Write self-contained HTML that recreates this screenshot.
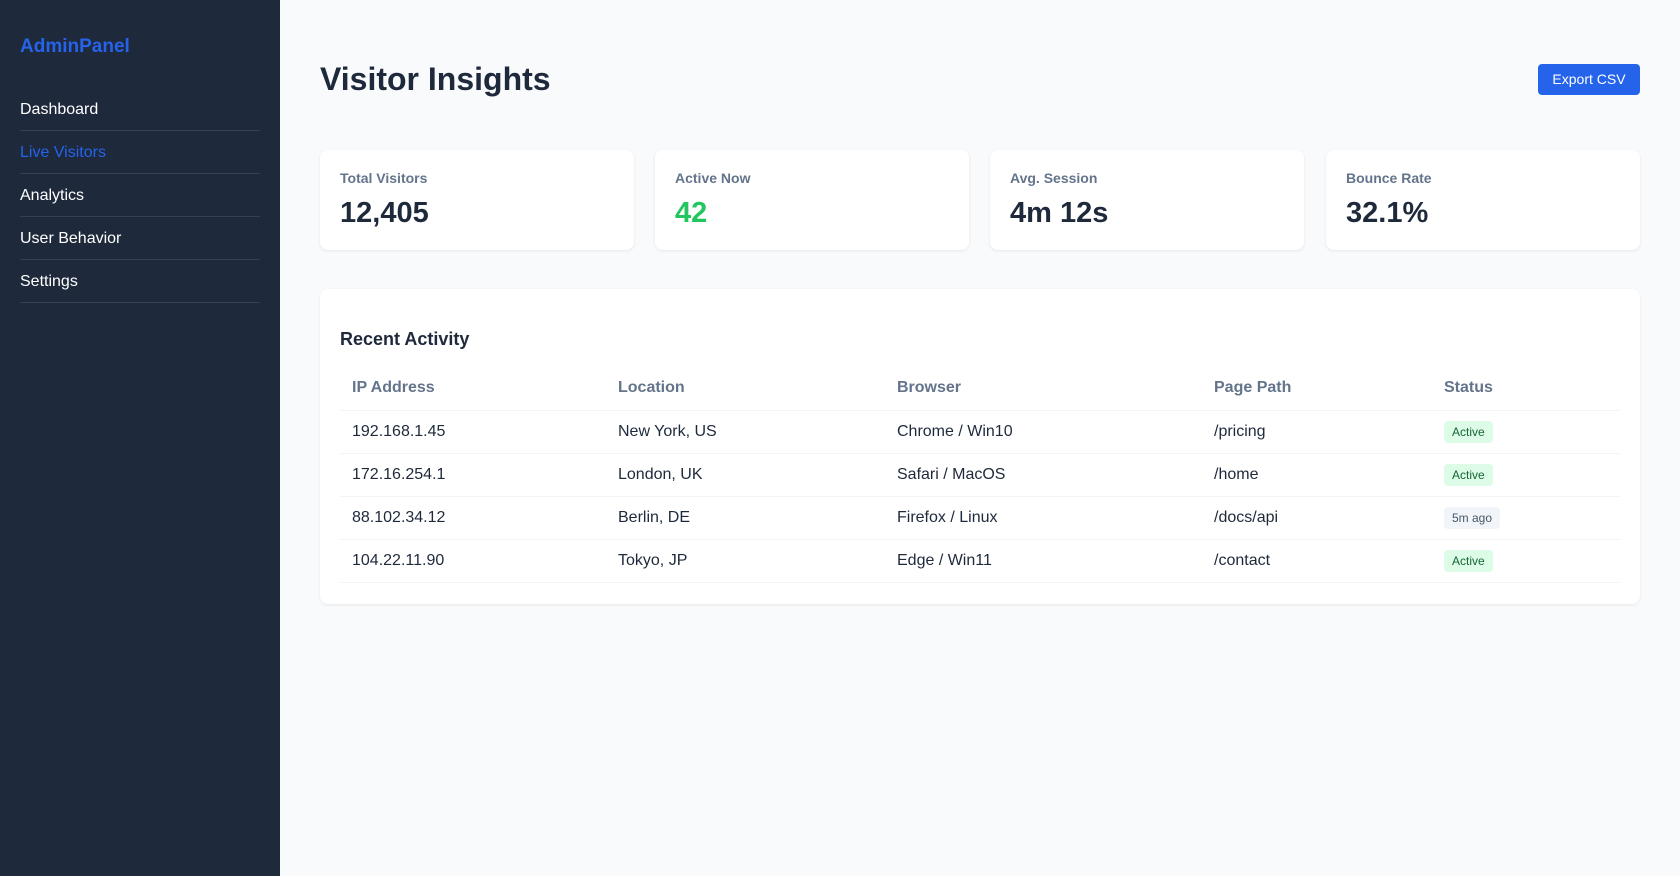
<!DOCTYPE html>
<html><head><meta charset="utf-8">
<style>
*{box-sizing:border-box;margin:0;padding:0}
body{width:1680px;height:876px;overflow:hidden;font-family:"Liberation Sans",sans-serif;background:#f8fafc;color:#1e293b;position:relative}
.side{position:absolute;left:0;top:0;width:280px;height:876px;background:#1e293b;padding:0 20px}
.logo{position:absolute;left:20px;top:36px;font-size:19px;font-weight:bold;color:#2563eb}
.nav{position:absolute;left:20px;top:88px;width:240px}
.nav div{height:43px;line-height:43px;font-size:16px;color:#fff;border-bottom:1px solid #334155}
.nav div.act{color:#2563eb}
.main{position:absolute;left:320px;top:0;width:1320px}
h1{position:absolute;left:0;top:61px;font-size:32px;font-weight:bold;color:#1e293b}
.btn{position:absolute;right:0;top:64px;width:102px;height:31px;background:#2563eb;color:#fff;border-radius:4px;font-size:14px;text-align:center;line-height:31px}
.card{position:absolute;top:150px;width:314px;height:100px;background:#fff;border-radius:8px;box-shadow:0 1px 3px rgba(0,0,0,.08);padding:20px}
.card .l{font-size:14px;font-weight:bold;color:#64748b;margin-top:0px}
.card .v{font-size:29px;font-weight:bold;margin-top:11px}
.panel{position:absolute;left:0;top:289px;width:1320px;height:315px;background:#fff;border-radius:8px;box-shadow:0 1px 3px rgba(0,0,0,.08)}
.panel h2{position:absolute;left:20px;top:40px;font-size:18px;font-weight:bold}
table{position:absolute;left:20px;top:78px;width:1280px;border-collapse:collapse;table-layout:fixed}
th,td{text-align:left;padding:0 12px;height:43px;border-bottom:1px solid #f1f5f9;font-size:16px}
th{color:#64748b;font-weight:bold}
.b{display:inline-block;font-size:12px;padding:4px 8px;border-radius:4px;background:#dcfce7;color:#166534}
.b.g{background:#f1f5f9;color:#475569}
</style></head><body>
<div class="side">
<div class="logo">AdminPanel</div>
<div class="nav">
<div>Dashboard</div>
<div class="act">Live Visitors</div>
<div>Analytics</div>
<div>User Behavior</div>
<div>Settings</div>
</div></div>
<div class="main">
<h1>Visitor Insights</h1>
<div class="btn">Export CSV</div>
<div class="card" style="left:0"><div class="l">Total Visitors</div><div class="v">12,405</div></div>
<div class="card" style="left:335px"><div class="l">Active Now</div><div class="v" style="color:#22c55e">42</div></div>
<div class="card" style="left:670px"><div class="l">Avg. Session</div><div class="v">4m 12s</div></div>
<div class="card" style="left:1006px"><div class="l">Bounce Rate</div><div class="v">32.1%</div></div>
<div class="panel">
<h2>Recent Activity</h2>
<table>
<colgroup><col style="width:266px"><col style="width:279px"><col style="width:317px"><col style="width:230px"><col style="width:188px"></colgroup>
<tr><th>IP Address</th><th>Location</th><th>Browser</th><th>Page Path</th><th>Status</th></tr>
<tr><td>192.168.1.45</td><td>New York, US</td><td>Chrome / Win10</td><td>/pricing</td><td><span class="b">Active</span></td></tr>
<tr><td>172.16.254.1</td><td>London, UK</td><td>Safari / MacOS</td><td>/home</td><td><span class="b">Active</span></td></tr>
<tr><td>88.102.34.12</td><td>Berlin, DE</td><td>Firefox / Linux</td><td>/docs/api</td><td><span class="b g">5m ago</span></td></tr>
<tr><td>104.22.11.90</td><td>Tokyo, JP</td><td>Edge / Win11</td><td>/contact</td><td><span class="b">Active</span></td></tr>
</table></div></div>
</body></html>
